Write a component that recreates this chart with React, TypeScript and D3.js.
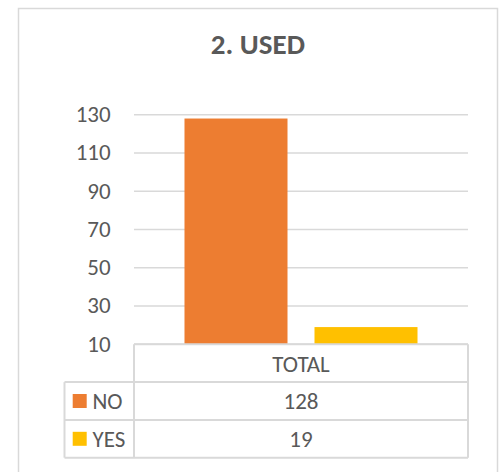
import React from "react";
import * as d3 from "d3";

const categories = ["TOTAL"];
const seriesNames = ["NO", "YES"];
const seriesValues = [128, 19];
const seriesColors = ["#ED7D31", "#FFC000"];
const yTicks = [10, 30, 50, 70, 90, 110, 130];
const title = "2. USED";

const FONT = "Carlito, Calibri, Lato, 'Open Sans', sans-serif";
const TEXT = "#595959";
const LINE = "#D9D9D9";
const FS = 23;

export default function App() {
  const W = 502;
  const H = 472;
  const plotLeft = 134;
  const plotRight = 468;
  const plotTop = 114.7;
  const plotBottom = 344.3;
  const legendLeft = 64.5;
  const rowH = 37.8;

  const y = d3.scaleLinear().domain([10, 130]).range([plotBottom, plotTop]);
  const x0 = d3
    .scaleBand<string>()
    .domain(categories)
    .range([plotLeft, plotRight])
    .paddingInner(0)
    .paddingOuter(0.2167);
  const x1 = d3
    .scaleBand<string>()
    .domain(seriesNames)
    .range([0, x0.bandwidth()])
    .paddingInner(27 / 130)
    .paddingOuter(0);

  const rows = seriesNames.map((n, i) => ({
    name: n,
    value: seriesValues[i],
    color: seriesColors[i],
    top: plotBottom + rowH * (i + 1),
  }));
  const tableBottom = plotBottom + rowH * (seriesNames.length + 1);

  return (
    <svg
      width={W}
      height={H}
      style={{ position: "absolute", left: 0, top: 0, background: "#fff" }}
      fontFamily={FONT}
    >
      <rect x={18.5} y={8.5} width={479} height={480} fill="#fff" stroke={LINE} strokeWidth={1.5} />
      <text x={257.9} y={54} textAnchor="middle" fontSize={29} fontWeight="bold" fill={TEXT}>
        {title}
      </text>

      {yTicks.map((t) => (
        <g key={t}>
          <line x1={plotLeft} x2={plotRight} y1={y(t)} y2={y(t)} stroke={LINE} strokeWidth={1.5} />
          <text x={110.7} y={y(t) - 1} dy="0.36em" textAnchor="end" fontSize={FS} fill={TEXT}>
            {t}
          </text>
        </g>
      ))}

      {categories.map((c) =>
        seriesNames.map((s, i) => (
          <rect
            key={c + s}
            x={(x0(c) ?? 0) + (x1(s) ?? 0)}
            width={x1.bandwidth()}
            y={y(seriesValues[i])}
            height={y(10) - y(seriesValues[i])}
            fill={seriesColors[i]}
          />
        ))
      )}

      <g stroke={LINE} strokeWidth={2} fill="none">
        <line x1={plotLeft} x2={plotRight} y1={plotBottom} y2={plotBottom} />
        <line x1={plotLeft} x2={plotLeft} y1={plotBottom} y2={tableBottom} />
        <line x1={plotRight} x2={plotRight} y1={plotBottom} y2={tableBottom} />
        <line x1={legendLeft} x2={legendLeft} y1={plotBottom + rowH} y2={tableBottom} />
        {rows.map((r) => (
          <line key={r.name} x1={legendLeft} x2={plotRight} y1={r.top} y2={r.top} />
        ))}
        <line x1={legendLeft} x2={plotRight} y1={tableBottom} y2={tableBottom} />
      </g>

      {categories.map((c) => (
        <text
          key={c}
          x={(x0(c) ?? 0) + x0.bandwidth() / 2}
          y={plotBottom + rowH / 2 + 1}
          dy="0.36em"
          textAnchor="middle"
          fontSize={FS}
          fill={TEXT}
        >
          {c}
        </text>
      ))}
      {rows.map((r) => (
        <g key={r.name}>
          <rect x={72.7} y={r.top + rowH / 2 - 7} width={14} height={14} fill={r.color} />
          <text x={92.5} y={r.top + rowH / 2} dy="0.36em" fontSize={FS} fill={TEXT}>
            {r.name}
          </text>
          <text
            x={(plotLeft + plotRight) / 2}
            y={r.top + rowH / 2}
            dy="0.36em"
            textAnchor="middle"
            fontSize={FS}
            fill={TEXT}
          >
            {r.value}
          </text>
        </g>
      ))}
    </svg>
  );
}
